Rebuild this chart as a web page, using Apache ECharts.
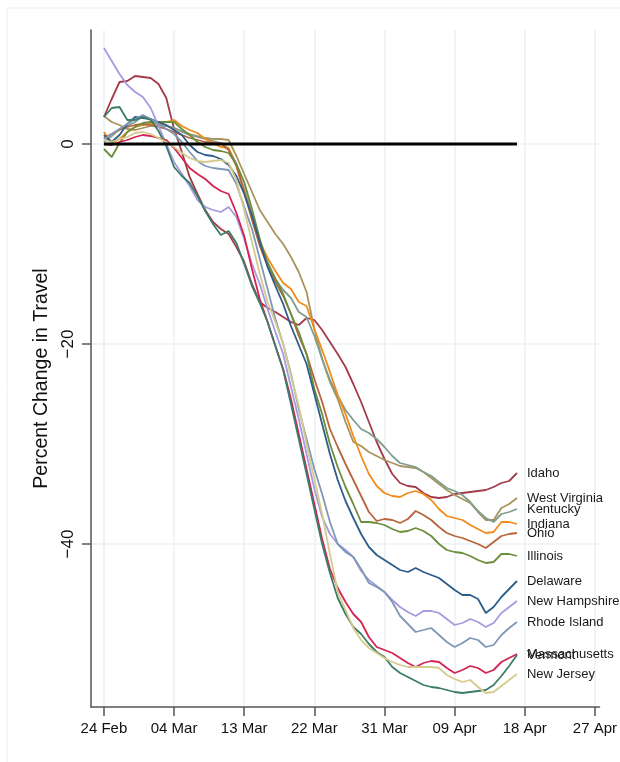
<!DOCTYPE html>
<html><head><meta charset="utf-8">
<script src="https://cdn.jsdelivr.net/npm/echarts@6/dist/echarts.min.js"></script>
<style>html,body{margin:0;padding:0;background:#fff}#c{width:620px;height:762px}</style>
</head><body><div id="c"></div>
<script>
// Day offsets from 24 Feb 2020 (0 .. 53 = 17 Apr)
const startDate = '2020-02-24';
const xTickDays = [0, 9, 18, 27, 36, 45, 54, 63];
const xTickLabels = ['24 Feb', '04 Mar', '13 Mar', '22 Mar', '31 Mar', '09 Apr', '18 Apr', '27 Apr'];
const yTicks = [-40, -20, 0];

const idaho = [2.7,4.5,6.2,6.3,6.8,6.7,6.6,6.0,4.6,1.5,-0.8,-3.3,-5.0,-6.6,-7.8,-8.5,-9.0,-10.3,-11.8,-14.0,-15.8,-16.4,-16.8,-17.3,-17.8,-18.1,-17.4,-17.6,-18.6,-19.8,-21.0,-22.3,-24.0,-25.8,-27.8,-29.8,-31.5,-33.0,-33.9,-34.2,-34.3,-34.9,-35.3,-35.4,-35.3,-35.0,-34.9,-34.8,-34.7,-34.6,-34.3,-33.9,-33.7,-32.9];
const westVirginia = [2.8,2.2,1.9,1.5,1.4,1.6,1.8,1.9,1.8,1.6,1.3,1.0,0.8,0.6,0.5,0.5,0.4,-1.2,-3.0,-4.8,-6.6,-7.8,-9.0,-10.0,-11.3,-12.8,-14.8,-18.5,-21.5,-23.8,-25.5,-27.8,-29.8,-30.2,-30.8,-31.2,-31.6,-31.9,-32.2,-32.3,-32.4,-32.8,-33.4,-34.0,-34.6,-35.1,-35.5,-35.9,-36.8,-37.6,-37.6,-36.4,-36.0,-35.4];
const kentucky = [0.2,0.8,1.5,1.8,2.2,2.8,2.5,2.1,1.8,1.6,1.2,0.9,0.7,0.5,0.3,0.1,-0.5,-2.0,-4.5,-7.0,-9.8,-11.8,-13.5,-14.6,-15.4,-16.8,-17.3,-19.2,-21.5,-23.6,-25.2,-26.6,-27.6,-28.5,-28.9,-29.5,-30.3,-31.2,-31.9,-32.1,-32.3,-32.8,-33.2,-33.8,-34.4,-34.7,-35.1,-35.8,-36.7,-37.4,-37.8,-37.0,-36.8,-36.5];
const indiana = [1.2,0.1,0.5,1.2,1.7,1.9,2.0,2.1,2.2,2.4,1.8,1.4,1.1,0.5,0.1,-0.3,-0.4,-2.2,-4.7,-7.3,-9.8,-11.4,-12.7,-13.9,-14.5,-15.8,-16.2,-18.5,-20.6,-22.8,-25.1,-27.0,-29.2,-31.2,-33.0,-34.2,-34.9,-35.2,-35.3,-34.9,-34.7,-35.0,-35.6,-36.5,-37.2,-37.4,-37.6,-38.1,-38.5,-38.9,-38.8,-37.8,-37.8,-38.0];
const ohio = [0.6,1.0,1.4,1.7,1.9,2.0,1.9,1.7,1.5,1.2,0.9,0.6,0.4,0.2,0.1,0.1,-0.6,-2.2,-4.8,-7.6,-10.2,-12.2,-13.8,-15.2,-17.0,-19.2,-21.0,-23.5,-25.8,-28.5,-30.3,-32.0,-33.6,-35.2,-36.8,-37.7,-37.5,-37.6,-37.9,-37.5,-36.7,-37.1,-37.6,-38.3,-38.9,-39.2,-39.4,-39.7,-40.0,-40.4,-39.8,-39.2,-39.0,-38.9];
const illinois = [-0.5,-1.3,0.1,1.2,1.7,2.1,2.2,2.2,2.2,2.2,1.5,0.9,0.2,-0.3,-0.6,-0.7,-0.9,-2.0,-3.8,-6.5,-9.5,-12.0,-13.5,-15.0,-17.0,-18.8,-21.0,-24.5,-27.0,-30.0,-32.3,-34.3,-36.0,-37.8,-37.8,-37.9,-38.1,-38.5,-38.8,-38.7,-38.4,-38.7,-39.2,-40.0,-40.6,-40.8,-40.9,-41.2,-41.6,-41.9,-41.8,-41.0,-41.0,-41.2];
const delaware = [0.9,0.2,0.9,2.0,2.7,2.6,2.5,2.2,1.9,1.4,0.9,-0.1,-0.8,-1.1,-1.2,-1.5,-2.1,-3.2,-5.0,-7.2,-9.8,-12.3,-14.2,-16.0,-18.2,-20.1,-22.0,-25.0,-28.0,-31.0,-33.6,-35.7,-37.4,-39.0,-40.3,-41.1,-41.6,-42.1,-42.6,-42.8,-42.4,-42.8,-43.1,-43.4,-44.0,-44.6,-45.1,-45.1,-45.5,-46.9,-46.3,-45.3,-44.5,-43.7];
const newHampshire = [9.6,8.3,7.0,5.9,5.2,4.7,3.6,1.8,0.0,-1.8,-3.0,-4.2,-5.6,-6.3,-6.6,-6.8,-6.3,-7.3,-9.5,-12.0,-14.0,-16.5,-18.8,-21.0,-24.3,-27.5,-31.0,-34.5,-37.3,-39.0,-40.0,-40.6,-41.3,-42.7,-43.6,-44.2,-44.8,-45.6,-46.3,-46.8,-47.2,-46.7,-46.7,-46.9,-47.5,-48.1,-47.9,-47.5,-47.8,-48.3,-47.9,-46.9,-46.3,-45.7];
const rhodeIsland = [0.5,1.0,1.5,2.0,2.5,2.9,2.5,2.0,1.5,1.0,0.2,-0.8,-1.7,-2.2,-2.4,-2.5,-2.6,-4.0,-6.3,-8.5,-11.5,-14.5,-17.5,-20.0,-23.0,-26.5,-29.5,-32.5,-35.0,-37.8,-40.0,-40.8,-41.3,-42.5,-43.9,-44.3,-44.8,-45.8,-47.2,-48.0,-48.8,-48.6,-48.4,-49.1,-49.8,-50.3,-49.9,-49.4,-49.6,-50.3,-50.1,-49.1,-48.4,-47.8];
const massachusetts = [0.0,-0.1,0.2,0.4,0.7,0.9,0.8,0.6,0.4,-0.4,-1.4,-2.4,-3.0,-3.5,-4.2,-4.7,-5.0,-6.9,-9.2,-12.5,-15.5,-17.8,-20.2,-22.5,-25.5,-29.0,-32.5,-36.0,-39.5,-42.5,-44.4,-45.8,-47.0,-47.8,-49.3,-50.3,-50.6,-50.9,-51.4,-51.9,-52.3,-51.9,-51.7,-51.8,-52.4,-52.9,-52.6,-52.2,-52.4,-52.9,-52.6,-51.8,-51.4,-51.0];
const vermont = [2.7,3.6,3.7,2.4,2.4,2.7,2.4,1.3,-0.2,-2.3,-3.2,-3.9,-5.2,-6.7,-8.0,-9.1,-8.7,-9.9,-12.0,-14.2,-15.9,-17.8,-20.2,-22.6,-26.0,-29.5,-33.0,-36.5,-40.0,-42.9,-45.4,-47.0,-48.3,-49.0,-50.0,-50.8,-51.3,-52.3,-52.9,-53.3,-53.7,-54.1,-54.3,-54.4,-54.6,-54.8,-54.9,-54.8,-54.7,-54.6,-54.1,-53.2,-52.2,-51.1];
const newJersey = [0.4,0.2,0.5,0.7,1.1,1.2,1.0,0.6,0.2,-0.3,-0.9,-1.4,-1.7,-1.8,-1.7,-1.6,-1.9,-3.6,-6.6,-9.8,-13.0,-15.8,-17.8,-20.0,-23.2,-26.2,-30.0,-33.5,-37.0,-41.0,-44.8,-46.6,-48.4,-49.6,-50.4,-50.9,-51.4,-51.8,-52.1,-52.3,-52.3,-52.3,-52.3,-52.4,-53.1,-53.5,-53.8,-53.6,-54.3,-54.9,-54.8,-54.2,-53.6,-53.0];

const seriesDefs = [
  ['Idaho', idaho, '#a33b49'],
  ['West Virginia', westVirginia, '#a8945c'],
  ['Kentucky', kentucky, '#7f9e91'],
  ['Indiana', indiana, '#f18b1b'],
  ['Ohio', ohio, '#b8653e'],
  ['Illinois', illinois, '#6c8e3b'],
  ['Delaware', delaware, '#2d5d88'],
  ['New Hampshire', newHampshire, '#a69be0'],
  ['Rhode Island', rhodeIsland, '#7f98b4'],
  ['Massachusetts', massachusetts, '#d42453'],
  ['Vermont', vermont, '#3b7c69'],
  ['New Jersey', newJersey, '#d6cb8d']
];

const FONT = 'Liberation Sans, Arial, Helvetica, sans-serif';
const chart = echarts.init(document.getElementById('c'), null, {renderer: 'canvas'});

const series = seriesDefs.map(([name, vals, color]) => ({
  name, type: 'line', symbol: 'none', animation: false,
  data: vals.map((v, i) => [i, v]),
  lineStyle: {width: 1.8, color}, itemStyle: {color},
  emphasis: {disabled: true},
  endLabel: {show: true, formatter: '{a}', color: '#1a1a1a', fontSize: 13, fontFamily: FONT, distance: 10}
}));
series.push({
  name: 'zero', type: 'line', symbol: 'none', animation: false, z: 5,
  data: [[0, 0], [idaho.length - 1, 0]],
  lineStyle: {width: 3, color: '#000'}
});

chart.setOption({
  animation: false,
  backgroundColor: '#fff',
  grid: {left: 91, top: 30, width: 510, height: 677, containLabel: false},
  graphic: [{type: 'rect', shape: {x: 7, y: 8, width: 700, height: 800}, style: {fill: 'none', stroke: '#e9eff1', lineWidth: 1}, silent: true, z: -10}],
  xAxis: {
    type: 'value', min: -1.66, max: 63.6,
    axisLine: {show: true, onZero: false, lineStyle: {color: '#555', width: 1.5}},
    axisTick: {show: true, length: 9, customValues: xTickDays, lineStyle: {color: '#555', width: 1.5}},
    axisLabel: {customValues: xTickDays, margin: 14, fontSize: 15, color: '#111', fontFamily: FONT,
      formatter: v => xTickLabels[xTickDays.indexOf(Math.round(v))] || ''},
    splitLine: {show: true, lineStyle: {color: '#eaf1f3', width: 1.5}}
  },
  yAxis: {
    type: 'value', min: -56.3, max: 11.4,
    name: 'Percent Change in Travel', nameLocation: 'middle', nameGap: 38,
    nameTextStyle: {fontSize: 19.5, color: '#111', fontFamily: FONT, padding: [0, 20, 0, 0]},
    axisLine: {show: true, onZero: false, lineStyle: {color: '#555', width: 1.5}},
    axisTick: {show: true, length: 9, customValues: yTicks, lineStyle: {color: '#555', width: 1.5}},
    axisLabel: {customValues: yTicks, rotate: 90, margin: 14, fontSize: 17, color: '#111', fontFamily: FONT,
      formatter: v => (v < 0 ? '\u2212' + Math.abs(v) : String(v))},
    splitLine: {show: true, lineStyle: {color: '#eaf1f3', width: 1.5}}
  },
  series
});
</script></body></html>
